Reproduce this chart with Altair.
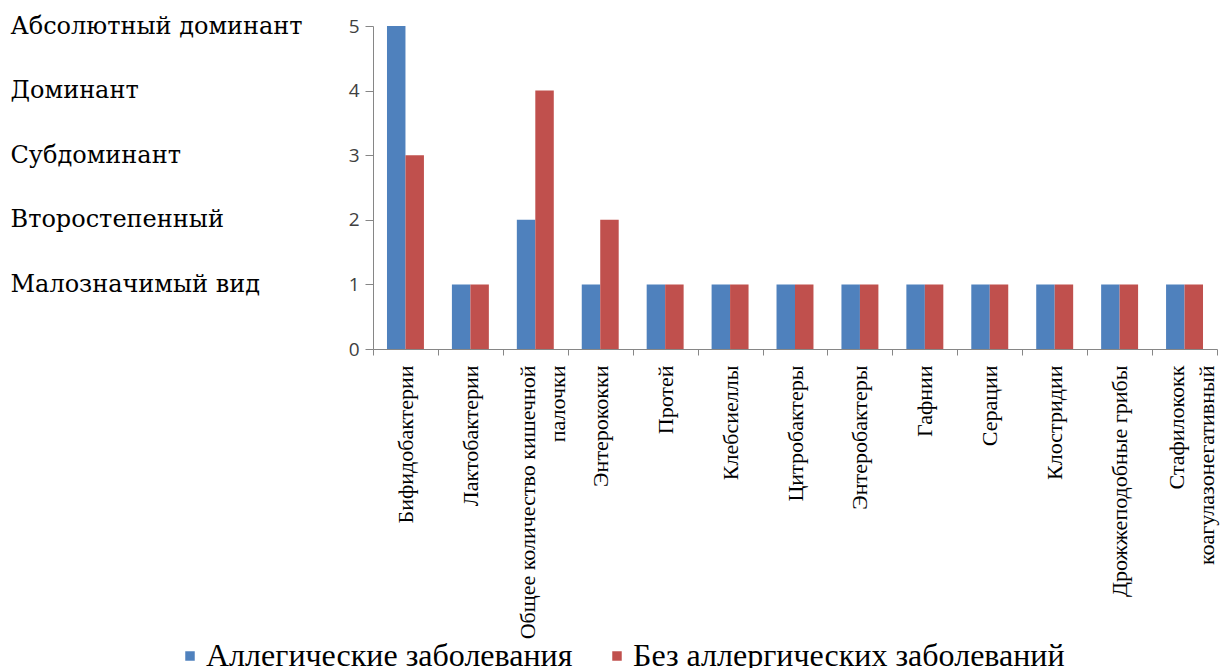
import altair as alt
import pandas as pd

categories = [
    "Бифидобактерии", "Лактобактерии", "Общее количество кишечной\nпалочки",
    "Энтерококки", "Протей", "Клебсиеллы", "Цитробактеры", "Энтеробактеры",
    "Гафнии", "Серации", "Клостридии", "Дрожжеподобные грибы",
    "Стафилококк\nкоагулазонегативный",
]
series = ["Аллегические заболевания", "Без аллергических заболеваний"]
allergic = [5, 1, 2, 1, 1, 1, 1, 1, 1, 1, 1, 1, 1]
non_allergic = [3, 1, 4, 2, 1, 1, 1, 1, 1, 1, 1, 1, 1]
level_ticks = [0, 1, 2, 3, 4, 5]
level_names = ["", "Малозначимый вид", "Второстепенный", "Субдоминант",
               "Доминант", "Абсолютный доминант"]
colors = ["#4F81BD", "#C0504D"]

rows = []
for i, c in enumerate(categories):
    rows.append({"cat": c, "series": series[0], "value": allergic[i]})
    rows.append({"cat": c, "series": series[1], "value": non_allergic[i]})
df = pd.DataFrame(rows)

names_expr = "[" + ", ".join("'" + n + "'" for n in level_names) + "][datum.value]"

x_axis = alt.Axis(labelAngle=-90, labelAlign="right", labelBaseline="middle",
                  labelFont="Liberation Serif", labelFontSize=22, labelColor="#000000",
                  labelLimit=500, labelPadding=10, labelLineHeight=30,
                  labelExpr="datum.value ? split(datum.value, '\\n') : ''",
                  labelOffset={"condition": {
                      "test": "datum.value && indexof(datum.value, '\\n') >= 0",
                      "value": -8}, "value": 0},
                  tickBand="extent", tickSize=6, tickColor="#868686",
                  domainColor="#868686", grid=False)

x_enc = alt.X("cat:N", sort=categories, title=None,
              scale=alt.Scale(paddingInner=0, paddingOuter=0), axis=x_axis)

bars = alt.Chart(df).mark_bar().encode(
    x=x_enc,
    xOffset=alt.XOffset("series:N", sort=series,
                        scale=alt.Scale(paddingInner=0, paddingOuter=0.757)),
    y=alt.Y("value:Q", title=None,
            scale=alt.Scale(domain=[0, 5]),
            axis=alt.Axis(orient="left", values=level_ticks, grid=False,
                          labelFont="Open Sans", labelFontSize=19, labelColor="#404040",
                          labelPadding=6, tickSize=8, tickColor="#868686",
                          domainColor="#868686")),
    color=alt.Color("series:N", sort=series, title=None,
                    scale=alt.Scale(domain=series, range=colors),
                    legend=alt.Legend(orient="none", legendX=-199, legendY=614,
                                      direction="horizontal", symbolType="square",
                                      symbolSize=90, symbolStrokeWidth=0,
                                      labelFont="Liberation Serif", labelFontSize=32,
                                      labelColor="#000000", labelLimit=600,
                                      labelOffset=0, columnPadding=28, symbolOffset=0)),
)

names = alt.Chart(df).mark_bar(opacity=0).encode(
    x=x_enc,
    y=alt.Y("value:Q", title=None,
            scale=alt.Scale(domain=[0, 5]),
            axis=alt.Axis(orient="left", values=level_ticks, grid=False, ticks=False,
                          tickSize=0, domain=False, labelAlign="left", labelPadding=363,
                          labelExpr=names_expr, labelFont="DejaVu Serif",
                          labelFontSize=24, labelColor="#000000", labelLimit=400)),
)

chart = alt.layer(bars, names).resolve_axis(y="independent").resolve_scale(y="shared").properties(
    width=844, height=323,
    autosize=alt.AutoSizeParams(type="none"),
    padding={"left": 373, "top": 26, "right": 4, "bottom": 319},
).configure_view(stroke=None)

chart.save("out.html", embed_options={"renderer": "svg", "actions": False})
